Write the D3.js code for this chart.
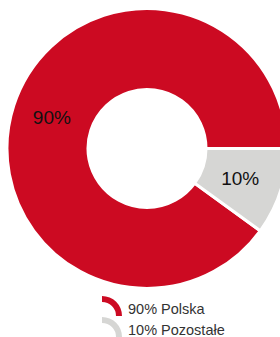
<!DOCTYPE html>
<html>
<head>
<meta charset="utf-8">
<script src="https://cdn.jsdelivr.net/npm/d3@7"></script>
<style>
  body { margin: 0; background: #fff; overflow: hidden; }
  text { font-family: "Liberation Sans", Arial, sans-serif; }
</style>
</head>
<body>
<div id="chart"></div>
<script>
// data
const categories = ["Polska", "Pozostałe"];
const values = [90, 10];
const colors = ["#cc0a22", "#d6d6d4"];

const width = 280, height = 337;
const cx = 147, cy = 148.5;
const outerR = 140, innerR = 59;

const svg = d3.select("#chart").append("svg")
    .attr("width", width)
    .attr("height", height);

const g = svg.append("g")
    .attr("transform", "translate(" + cx + "," + cy + ")");

// gray slice starts at 3 o'clock, red takes the rest
const pie = d3.pie()
    .sort(null)
    .value(d => d)
    .startAngle(Math.PI / 2 + 2 * Math.PI * values[1] / 100)
    .endAngle(Math.PI / 2 + 2 * Math.PI * values[1] / 100 + 2 * Math.PI);

const arc = d3.arc().innerRadius(innerR).outerRadius(outerR);
const labelArc = d3.arc().innerRadius(innerR).outerRadius(outerR - 1);

const arcs = pie(values);

g.selectAll("path.slice")
    .data(arcs)
    .enter().append("path")
    .attr("class", "slice")
    .attr("d", arc)
    .attr("fill", (d, i) => colors[i])
    .attr("stroke", "#fff")
    .attr("stroke-width", 3);

g.selectAll("text.lbl")
    .data(arcs)
    .enter().append("text")
    .attr("class", "lbl")
    .attr("transform", d => {
        let c = labelArc.centroid(d);
        return "translate(" + (c[0] - 1) + "," + (c[1] - 1) + ")";
    })
    .attr("text-anchor", "middle")
    .attr("dy", "0.36em")
    .attr("font-size", 19)
    .attr("fill", "#111")
    .text(d => d.data + "%");

// legend
const legend = svg.append("g")
    .attr("transform", "translate(102,316)");

const iconArc = d3.arc()
    .innerRadius(14)
    .outerRadius(20)
    .startAngle(0)
    .endAngle(Math.PI / 2);

const rows = legend.selectAll("g.row")
    .data(categories)
    .enter().append("g")
    .attr("class", "row")
    .attr("transform", (d, i) => "translate(0," + (i * 21) + ")");

rows.append("path")
    .attr("d", iconArc)
    .attr("fill", (d, i) => colors[i]);

rows.append("text")
    .attr("x", 26)
    .attr("y", -2.5)
    .attr("font-size", 14.5)
    .attr("fill", "#333")
    .text((d, i) => values[i] + "% " + d);
</script>
</body>
</html>
